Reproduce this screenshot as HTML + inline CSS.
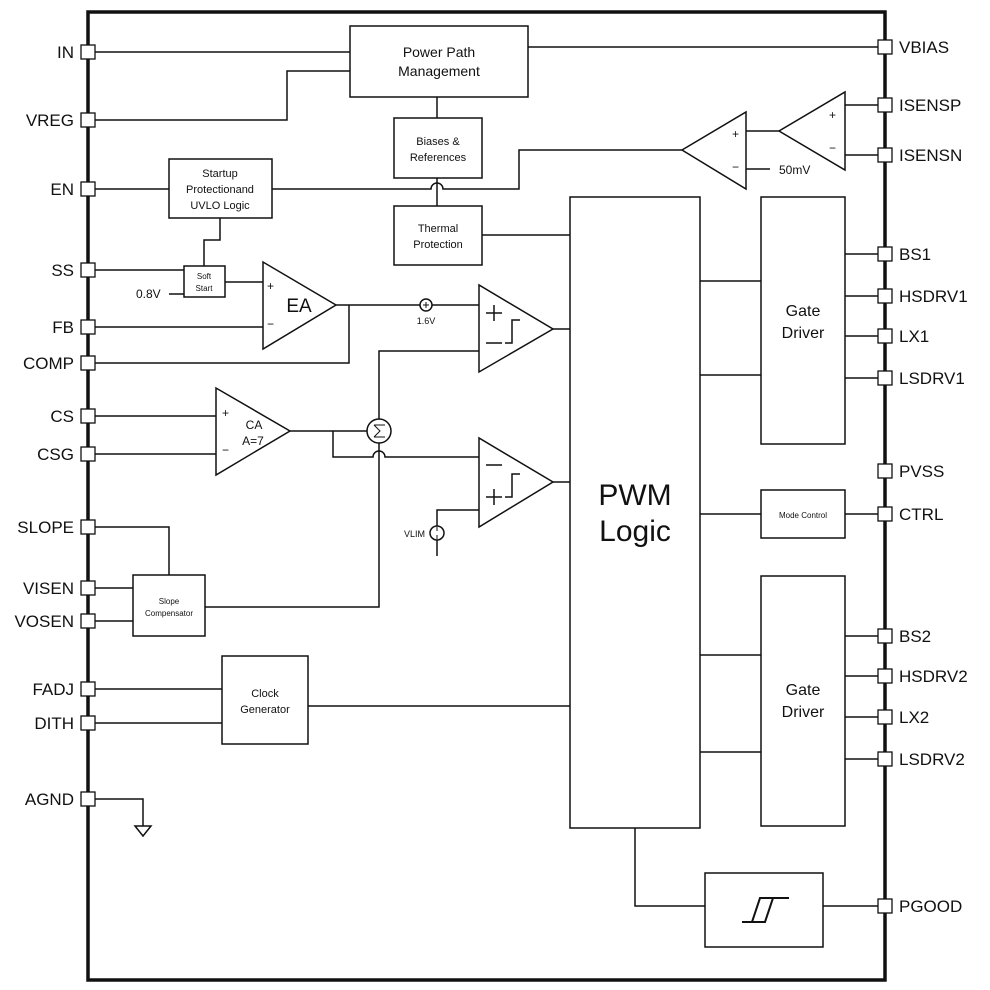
<!DOCTYPE html>
<html><head><meta charset="utf-8"><style>html,body{margin:0;padding:0;background:#fff}svg{display:block}text{font-family:"Liberation Sans",sans-serif;fill:#111}</style></head><body>
<svg width="990" height="990" viewBox="0 0 990 990" xmlns="http://www.w3.org/2000/svg">
<g fill="none" stroke="#111" stroke-width="1.5">
<rect x="88" y="12" width="797" height="968" stroke-width="3.5"/>
<rect x="350" y="26" width="178" height="71"/>
<rect x="394" y="118" width="88" height="60"/>
<rect x="394" y="206" width="88" height="59"/>
<rect x="169" y="159" width="103" height="59"/>
<rect x="184" y="266" width="41" height="31"/>
<rect x="570" y="197" width="130" height="631"/>
<rect x="761" y="197" width="84" height="247"/>
<rect x="761" y="576" width="84" height="250"/>
<rect x="761" y="490" width="84" height="48"/>
<rect x="133" y="575" width="72" height="61"/>
<rect x="222" y="656" width="86" height="88"/>
<rect x="705" y="873" width="118" height="74"/>
<polygon points="263,262 263,349 336,305"/>
<polygon points="479,285 479,372 553,329"/>
<polygon points="216,388 216,475 290,431"/>
<polygon points="479,438 479,527 553,482"/>
<polygon points="845,92 845,170 779,131"/>
<polygon points="746,112 746,189 682,150"/>
<circle cx="379" cy="431" r="12"/>
<circle cx="426" cy="305" r="6"/>
<circle cx="437" cy="533" r="7"/>
<path d="M95 52H350M528 47H885M95 120H287V71H350M437 97V118M437 178V206"/>
<path d="M95 189H169M272 189H431A6 6 0 0 1 443 189H519V150H682M746 131H779M746 169H770M845 105H885M845 155H885"/>
<path d="M482 235H570M220 218V240H204V266M95 270H184M169 294H184M225 282H263M95 327H263"/>
<path d="M336 305H420M432 305H479M349 305V363H95M553 329H570M379 419V351H479"/>
<path d="M95 416H216M95 454H216M290 431H367M333 431V457H373A6 6 0 0 1 385 457H479M553 482H570"/>
<path d="M479 510H437V526M437 540V556M379 443V607H205M95 527H169V575M95 588H133M95 621H133"/>
<path d="M95 689H222M95 723H222M308 706H570M95 799H143V826"/>
<polygon points="135,826 151,826 143,836"/>
<path d="M700 281H761M700 375H761M845 254H885M845 296H885M845 336H885M845 378H885"/>
<path d="M700 514H761M845 514H885M700 655H761M700 752H761M845 636H885M845 676H885M845 717H885M845 759H885"/>
<path d="M635 828V906H705M823 906H885"/>
<path d="M486 313H502M494 305V321M486 343H502M505 343H512V320H520"/>
<path d="M486 465H502M486 497H502M494 489V505M505 497H512V474H520"/>
<path d="M742 922H765L773 898H789M752 922L760 898H773" stroke-width="2"/>
<path d="M374 425H385M374 437H385M374 425L380 431L374 437" stroke-width="1"/>
<path d="M423 305H429M426 302V308M437 527V531M437 535V539" stroke-width="1"/>
</g>
<g fill="#fff" stroke="#111" stroke-width="1.3">
<rect x="81" y="45" width="14" height="14"/><rect x="81" y="113" width="14" height="14"/><rect x="81" y="182" width="14" height="14"/><rect x="81" y="263" width="14" height="14"/><rect x="81" y="320" width="14" height="14"/><rect x="81" y="356" width="14" height="14"/><rect x="81" y="409" width="14" height="14"/><rect x="81" y="447" width="14" height="14"/><rect x="81" y="520" width="14" height="14"/><rect x="81" y="581" width="14" height="14"/><rect x="81" y="614" width="14" height="14"/><rect x="81" y="682" width="14" height="14"/><rect x="81" y="716" width="14" height="14"/><rect x="81" y="792" width="14" height="14"/>
<rect x="878" y="40" width="14" height="14"/><rect x="878" y="98" width="14" height="14"/><rect x="878" y="148" width="14" height="14"/><rect x="878" y="247" width="14" height="14"/><rect x="878" y="289" width="14" height="14"/><rect x="878" y="329" width="14" height="14"/><rect x="878" y="371" width="14" height="14"/><rect x="878" y="464" width="14" height="14"/><rect x="878" y="507" width="14" height="14"/><rect x="878" y="629" width="14" height="14"/><rect x="878" y="669" width="14" height="14"/><rect x="878" y="710" width="14" height="14"/><rect x="878" y="752" width="14" height="14"/><rect x="878" y="899" width="14" height="14"/>
</g>
<g font-size="17" text-anchor="end">
<text x="74" y="58">IN</text><text x="74" y="126">VREG</text><text x="74" y="195">EN</text><text x="74" y="276">SS</text><text x="74" y="333">FB</text><text x="74" y="369">COMP</text><text x="74" y="422">CS</text><text x="74" y="460">CSG</text><text x="74" y="533">SLOPE</text><text x="74" y="594">VISEN</text><text x="74" y="627">VOSEN</text><text x="74" y="695">FADJ</text><text x="74" y="729">DITH</text><text x="74" y="805">AGND</text>
</g>
<g font-size="17">
<text x="899" y="53">VBIAS</text><text x="899" y="111">ISENSP</text><text x="899" y="161">ISENSN</text><text x="899" y="260">BS1</text><text x="899" y="302">HSDRV1</text><text x="899" y="342">LX1</text><text x="899" y="384">LSDRV1</text><text x="899" y="477">PVSS</text><text x="899" y="520">CTRL</text><text x="899" y="642">BS2</text><text x="899" y="682">HSDRV2</text><text x="899" y="723">LX2</text><text x="899" y="765">LSDRV2</text><text x="899" y="912">PGOOD</text>
</g>
<g text-anchor="middle">
<text x="439" y="57" font-size="14">Power Path</text><text x="439" y="76" font-size="14">Management</text>
<text x="438" y="145" font-size="11">Biases &amp;</text><text x="438" y="161" font-size="11">References</text>
<text x="438" y="232" font-size="11">Thermal</text><text x="438" y="248" font-size="11">Protection</text>
<text x="220" y="177" font-size="11">Startup</text><text x="220" y="193" font-size="11">Protectionand</text><text x="220" y="209" font-size="11">UVLO Logic</text>
<text x="204" y="279" font-size="8">Soft</text><text x="204" y="291" font-size="8">Start</text>
<text x="635" y="505" font-size="30">PWM</text><text x="635" y="541" font-size="30">Logic</text>
<text x="803" y="316" font-size="16">Gate</text><text x="803" y="338" font-size="16">Driver</text>
<text x="803" y="695" font-size="16">Gate</text><text x="803" y="717" font-size="16">Driver</text>
<text x="803" y="518" font-size="8">Mode Control</text>
<text x="169" y="604" font-size="8">Slope</text><text x="169" y="616" font-size="8">Compensator</text>
<text x="265" y="697" font-size="11">Clock</text><text x="265" y="713" font-size="11">Generator</text>
<text x="299" y="312" font-size="19">EA</text>
<text x="254" y="429" font-size="12">CA</text><text x="253" y="445" font-size="12">A=7</text>
<text x="426" y="324" font-size="9">1.6V</text>
</g>
<g font-size="12">
<text x="136" y="298">0.8V</text>
<text x="267" y="290">+</text><text x="267" y="328">−</text>
<text x="222" y="417">+</text><text x="222" y="454">−</text>
<text x="732" y="138">+</text><text x="732" y="171">−</text>
<text x="829" y="119">+</text><text x="829" y="152">−</text>
<text x="779" y="174">50mV</text>
<text x="404" y="537" font-size="9">VLIM</text>
</g>
</svg>
</body></html>
